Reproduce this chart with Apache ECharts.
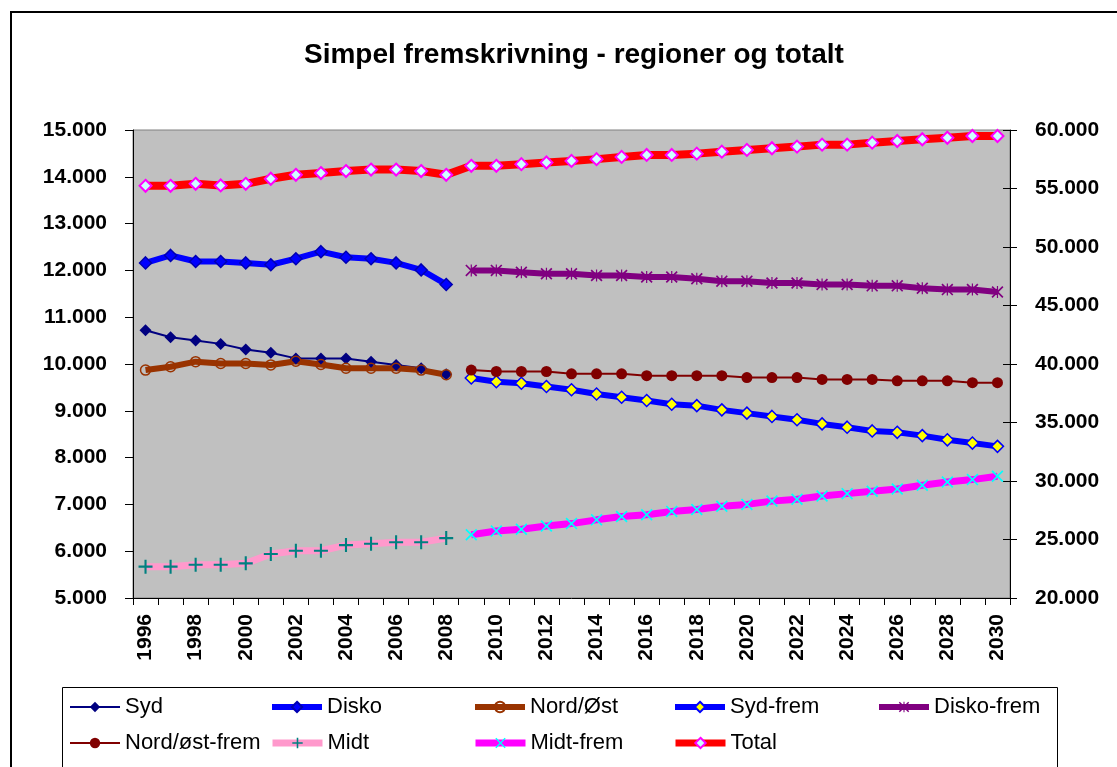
<!DOCTYPE html>
<html>
<head>
<meta charset="utf-8">
<script src="https://cdn.jsdelivr.net/npm/echarts@6/dist/echarts.min.js"></script>
<style>
html,body{margin:0;padding:0;background:#fff;}
#chart{width:1117px;height:767px;}
</style>
</head>
<body>
<div id="chart"></div>
<script>
const years = ['1996','1997','1998','1999','2000','2001','2002','2003','2004','2005','2006','2007','2008',
  '2009','2010','2011','2012','2013','2014','2015','2016','2017','2018','2019','2020',
  '2021','2022','2023','2024','2025','2026','2027','2028','2029','2030'];

// historical 1996-2008
const syd    = [10720,10570,10500,10430,10310,10240,10120,10120,10120,10050,9980,9910,9780];
const disko  = [12160,12320,12190,12190,12160,12120,12250,12400,12280,12250,12160,12010,11700];
const nordOst= [9870,9940,10050,10010,10010,9980,10060,9990,9910,9910,9910,9870,9770];
const midt   = [5670,5670,5710,5710,5740,5940,6010,6010,6130,6160,6190,6190,6280];

// projections 2009-2030
const sydFrem     = [9700,9620,9590,9520,9450,9360,9290,9220,9140,9110,9020,8950,8880,8810,8720,8650,8570,8540,8470,8380,8310,8240];
const diskoFrem   = [12000,12000,11960,11930,11930,11890,11890,11860,11860,11820,11770,11770,11730,11730,11700,11700,11670,11670,11620,11590,11590,11540];
const nordOstFrem = [9870,9840,9840,9840,9790,9790,9790,9750,9750,9750,9750,9710,9710,9710,9670,9670,9670,9640,9640,9640,9600,9600];
const midtFrem    = [6350,6430,6470,6540,6590,6670,6740,6780,6850,6890,6960,7000,7070,7110,7180,7230,7280,7330,7410,7480,7530,7600];

// total 1996-2030 (right axis)
const total = [55230,55230,55400,55260,55400,55830,56170,56320,56490,56620,56620,56490,56170,
  56940,56940,57080,57220,57360,57510,57700,57870,57870,57980,58150,58300,
  58440,58580,58750,58750,58920,59060,59210,59340,59490,59490];

const leftTicks = {min:5000, max:15000, interval:1000};
const rightTicks = {min:20000, max:60000, interval:5000};

const hist = arr => arr.concat(new Array(years.length - arr.length).fill(null));
const frem = arr => new Array(years.length - arr.length).fill(null).concat(arr);

const fmt = v => String(v).replace(/\B(?=(\d{3})+(?!\d))/g, '.');
const FONT = 'Liberation Sans, Arial, sans-serif';

const plusPath = 'path://M8.5,0 L11.5,0 L11.5,8.5 L20,8.5 L20,11.5 L11.5,11.5 L11.5,20 L8.5,20 L8.5,11.5 L0,11.5 L0,8.5 L8.5,8.5 Z';
const xPath = 'path://M0,2 L2,0 L20,18 L18,20 Z M18,0 L20,2 L2,20 L0,18 Z';
const starPath = 'path://M0,2 L2,0 L20,18 L18,20 Z M18,0 L20,2 L2,20 L0,18 Z M9,0 L11,0 L11,20 L9,20 Z';

function line(name, data, o) {
  return Object.assign({
    name: name, type: 'line', data: data, yAxisIndex: 0,
    connectNulls: false, animation: false, emphasis: {disabled: true},
    z: 2
  }, o);
}

const series = [
  line('Syd', hist(syd), {
    symbol: 'diamond', symbolSize: 12,
    lineStyle: {color: '#000080', width: 2},
    itemStyle: {color: '#000080'}
  }),
  line('Disko', hist(disko), {
    symbol: 'diamond', symbolSize: 12,
    lineStyle: {color: '#0000FF', width: 6},
    itemStyle: {color: '#0000FF', borderColor: '#0000B0', borderWidth: 1.5}
  }),
  line('Nord/Øst', hist(nordOst), {
    symbol: 'circle', symbolSize: 10,
    lineStyle: {color: '#993300', width: 6},
    itemStyle: {color: 'rgba(0,0,0,0)', borderColor: '#993300', borderWidth: 1.5}
  }),
  line('Syd-frem', frem(sydFrem), {
    symbol: 'diamond', symbolSize: 12,
    lineStyle: {color: '#0000FF', width: 6},
    itemStyle: {color: '#FFFF00', borderColor: '#0000FF', borderWidth: 1.5}
  }),
  line('Disko-frem', frem(diskoFrem), {
    symbol: starPath, symbolSize: 12,
    lineStyle: {color: '#800080', width: 6},
    itemStyle: {color: '#800080'}
  }),
  line('Nord/øst-frem', frem(nordOstFrem), {
    symbol: 'circle', symbolSize: 11,
    lineStyle: {color: '#800000', width: 2},
    itemStyle: {color: '#800000'}
  }),
  line('Midt', hist(midt), {
    symbol: plusPath, symbolSize: 14,
    lineStyle: {color: '#FF99CC', width: 7},
    itemStyle: {color: '#008080'}
  }),
  line('Midt-frem', frem(midtFrem), {
    symbol: xPath, symbolSize: 12,
    lineStyle: {color: '#FF00FF', width: 7},
    itemStyle: {color: '#00FFFF'}
  }),
  line('Total', total, {
    yAxisIndex: 1,
    symbol: 'diamond', symbolSize: 12,
    lineStyle: {color: '#FF0000', width: 8},
    itemStyle: {color: '#CCFFFF', borderColor: '#FF00FF', borderWidth: 2}
  })
];

const legendPos = [
  ['Syd', 69, 695, 2], ['Disko', 269, 695, 6], ['Nord/Øst', 472, 695, 6], ['Syd-frem', 672, 695, 6], ['Disko-frem', 876, 695, 6],
  ['Nord/øst-frem', 69, 731, 2], ['Midt', 269, 731, 7], ['Midt-frem', 472, 731, 7], ['Total', 672, 731, 7]
];
const legends = legendPos.map(p => ({
  data: [p[0]], left: p[1], top: p[2], orient: 'horizontal',
  itemWidth: 50, itemHeight: 13, itemGap: 4, padding: 0,
  selectedMode: false,
  lineStyle: {width: p[3]},
  textStyle: {fontFamily: FONT, fontSize: 22, color: '#000', lineHeight: 24}
}));

const chart = echarts.init(document.getElementById('chart'), null, {renderer: 'canvas'});
chart.setOption({
  backgroundColor: '#fff',
  animation: false,
  title: {
    text: 'Simpel fremskrivning - regioner og totalt',
    left: 299, top: 36,
    textStyle: {fontFamily: FONT, fontWeight: 'bold', fontSize: 28, color: '#000'}
  },
  legend: legends,
  grid: {
    left: 133, right: 107, top: 130, bottom: 169,
    show: true, backgroundColor: '#C0C0C0', borderColor: '#808080', borderWidth: 1,
    containLabel: false, outerBoundsMode: 'none'
  },
  xAxis: {
    type: 'category', data: years, boundaryGap: true,
    axisLine: {show: true, lineStyle: {color: '#000', width: 1}},
    axisTick: {show: true, interval: 0, length: 7, inside: false, lineStyle: {color: '#000'}},
    axisLabel: {interval: 1, rotate: 90, margin: 16, fontFamily: FONT, fontWeight: 'bold', fontSize: 21, color: '#000'},
    splitLine: {show: false}
  },
  yAxis: [
    {
      type: 'value', position: 'left', min: leftTicks.min, max: leftTicks.max, interval: leftTicks.interval,
      axisLine: {show: true, lineStyle: {color: '#000', width: 1}},
      axisTick: {show: true, length: 8, lineStyle: {color: '#000'}},
      axisLabel: {formatter: fmt, margin: 26, fontFamily: FONT, fontWeight: 'bold', fontSize: 21, color: '#000'},
      splitLine: {show: false}
    },
    {
      type: 'value', position: 'right', min: rightTicks.min, max: rightTicks.max, interval: rightTicks.interval,
      axisLine: {show: true, lineStyle: {color: '#000', width: 1}},
      axisTick: {show: true, length: 7, lineStyle: {color: '#000'}},
      axisLabel: {formatter: fmt, margin: 25, fontFamily: FONT, fontWeight: 'bold', fontSize: 21, color: '#000'},
      splitLine: {show: false}
    },
    {
      type: 'value', position: 'right', min: rightTicks.min, max: rightTicks.max, interval: rightTicks.interval,
      axisLine: {show: false},
      axisTick: {show: true, inside: true, length: 7, lineStyle: {color: '#000'}},
      axisLabel: {show: false},
      splitLine: {show: false}
    }
  ],
  series: series,
  graphic: [
    {type: 'rect', shape: {x: 11, y: 12, width: 1200, height: 900}, style: {fill: 'none', stroke: '#000', lineWidth: 2}, silent: true, z: -1},
    {type: 'rect', shape: {x: 62.5, y: 687.5, width: 995, height: 200}, style: {fill: 'none', stroke: '#000', lineWidth: 1}, silent: true, z: -1}
  ]
});
</script>
</body>
</html>
